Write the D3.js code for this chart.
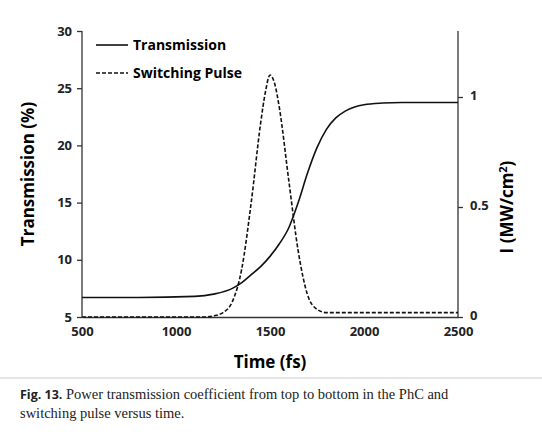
<!DOCTYPE html>
<html><head><meta charset="utf-8">
<script src="https://cdn.jsdelivr.net/npm/d3@7"></script>
<style>body{margin:0;background:#fff;font-family:"Open Sans",Lato,sans-serif}</style>
</head><body>
<script>
var timeTicks = [500, 1000, 1500, 2000, 2500];
var transTicks = [5, 10, 15, 20, 25, 30];
var pulseTicks = [0, 0.5, 1];

var transT = [500, 800, 1100, 1200, 1300, 1350, 1400, 1450, 1500, 1550, 1600, 1650, 1700, 1750, 1800, 1850, 1900, 1950, 2000, 2100, 2200, 2500];
var transV = [6.7, 6.7, 6.8, 7.0, 7.5, 8.0, 8.7, 9.4, 10.3, 11.4, 12.8, 15.0, 17.6, 19.8, 21.4, 22.4, 23.0, 23.35, 23.55, 23.7, 23.75, 23.75];

var pulseT = [500, 1150, 1200, 1250, 1300, 1350, 1400, 1450, 1475, 1500, 1525, 1550, 1600, 1650, 1700, 1750, 1800, 1850, 2500];
var pulseV = [0, 0, 0.005, 0.02, 0.07, 0.22, 0.52, 0.88, 1.02, 1.1, 1.06, 0.95, 0.62, 0.3, 0.1, 0.035, 0.02, 0.02, 0.02];

var w = 542, h = 434;
var svg = d3.select("body").append("svg").attr("width", w).attr("height", h);

var x = d3.scaleLinear().domain([500, 2500]).range([82, 458]);
var yL = d3.scaleLinear().domain([5, 30]).range([317, 31]);
var yR = d3.scaleLinear().domain([0, 1]).range([317, 97]);

// axes
var ax = svg.append("g").attr("transform", "translate(0,317)")
    .call(d3.axisBottom(x).tickValues(timeTicks).tickFormat(d3.format("d")).tickSize(0).tickPadding(10));
var ay = svg.append("g").attr("transform", "translate(82,0)")
    .call(d3.axisLeft(yL).tickValues(transTicks).tickSize(5).tickPadding(5));
var ar = svg.append("g").attr("transform", "translate(458,0)")
    .call(d3.axisRight(yR).tickValues(pulseTicks).tickFormat(d3.format("")).tickSize(5).tickPadding(7));
ay.select(".domain").attr("d", "M0,31V317");
ar.select(".domain").attr("d", "M0,31V317");
[ax, ay, ar].forEach(function (g) {
    g.selectAll("text").attr("font-size", 13).attr("font-weight", "bold").attr("fill", "#222")
        .attr("font-family", "'Open Sans',sans-serif");
    g.selectAll("path,line").attr("stroke", "#333").attr("stroke-width", 1.3);
});
ar.selectAll("text").attr("dy", "0.2em");

// lines
var trans = transT.map(function (t, i) { return [t, transV[i]]; });
var pulse = pulseT.map(function (t, i) { return [t, pulseV[i]]; });
svg.append("path").datum(trans).attr("fill", "none").attr("stroke", "#111").attr("stroke-width", 1.6)
    .attr("d", d3.line().x(function (d) { return x(d[0]); }).y(function (d) { return yL(d[1]); }).curve(d3.curveMonotoneX));
svg.append("path").datum(pulse).attr("fill", "none").attr("stroke", "#111").attr("stroke-width", 1.6)
    .attr("stroke-dasharray", "4,2")
    .attr("d", d3.line().x(function (d) { return x(d[0]); }).y(function (d) { return yR(d[1]); }).curve(d3.curveMonotoneX));

// legend
svg.append("line").attr("x1", 96).attr("x2", 128).attr("y1", 45).attr("y2", 45).attr("stroke", "#111").attr("stroke-width", 1.6);
svg.append("line").attr("x1", 96).attr("x2", 128).attr("y1", 73).attr("y2", 73).attr("stroke", "#111").attr("stroke-width", 1.6).attr("stroke-dasharray", "4,2");
svg.append("text").attr("x", 133).attr("y", 50).attr("font-size", 14).attr("font-weight", "bold").text("Transmission");
svg.append("text").attr("x", 133).attr("y", 78).attr("font-size", 14).attr("font-weight", "bold").text("Switching Pulse");

// axis titles
svg.append("text").attr("x", 270).attr("y", 368).attr("text-anchor", "middle").attr("font-size", 17).attr("font-weight", "bold").text("Time (fs)");
svg.append("text").attr("transform", "translate(34,174) rotate(-90)").attr("text-anchor", "middle").attr("font-size", 17).attr("font-weight", "bold").text("Transmission (%)");
var rt = svg.append("text").attr("transform", "translate(513,207) rotate(-90)").attr("text-anchor", "middle").attr("font-size", 17).attr("font-weight", "bold");
rt.append("tspan").text("I (MW/cm");
rt.append("tspan").attr("dy", -6).attr("font-size", 11).text("2");
rt.append("tspan").attr("dy", 6).text(")");

// caption
svg.append("line").attr("x1", 0).attr("x2", 542).attr("y1", 378).attr("y2", 378).attr("stroke", "#ccc");
var cap = svg.append("g").attr("font-family", "'Liberation Serif',serif").attr("font-size", 14.5).attr("fill", "#222");
var c1 = cap.append("text").attr("x", 20).attr("y", 399);
c1.append("tspan").attr("font-weight", "bold").attr("font-family", "'Open Sans',sans-serif").attr("font-size", 12.5).text("Fig. 13.");
c1.append("tspan").text(" Power transmission coefficient from top to bottom in the PhC and");
cap.append("text").attr("x", 20).attr("y", 418).text("switching pulse versus time.");
</script>
</body></html>
